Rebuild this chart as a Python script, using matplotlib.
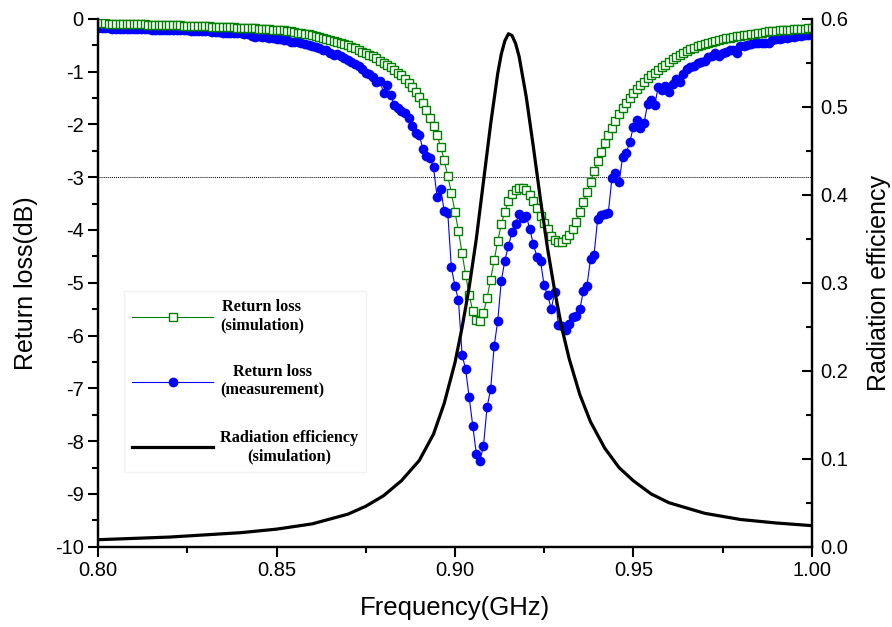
import numpy as np
import matplotlib
matplotlib.use("Agg")
import matplotlib.pyplot as plt
from matplotlib.ticker import MultipleLocator

plt.rcParams['font.family'] = ['Liberation Sans', 'DejaVu Sans']

# --- data: frequency sweep (GHz), 1 MHz step ---
freq = np.linspace(0.80, 1.00, 201)

# return loss, simulation (dB)
rl_sim = [
    -0.08, -0.08, -0.08, -0.09, -0.09, -0.09, -0.09, -0.09, -0.10, -0.10, -0.10,
    -0.10, -0.10, -0.10, -0.11, -0.11, -0.11, -0.11, -0.11, -0.12, -0.12,
    -0.12, -0.12, -0.12, -0.13, -0.13, -0.13, -0.13, -0.14, -0.14, -0.14,
    -0.14, -0.15, -0.15, -0.15, -0.15, -0.16, -0.16, -0.16, -0.17, -0.17,
    -0.17, -0.18, -0.18, -0.18, -0.19, -0.19, -0.20, -0.20, -0.21, -0.21,
    -0.22, -0.22, -0.23, -0.24, -0.25, -0.26, -0.27, -0.28, -0.29, -0.30,
    -0.32, -0.34, -0.36, -0.38, -0.40, -0.42, -0.44, -0.46, -0.48, -0.50,
    -0.53, -0.56, -0.59, -0.62, -0.65, -0.68, -0.71, -0.75, -0.79, -0.83,
    -0.87, -0.92, -0.97, -1.02, -1.07, -1.14, -1.21, -1.29, -1.38, -1.48,
    -1.59, -1.72, -1.87, -2.03, -2.21, -2.42, -2.68, -2.98, -3.29, -3.65,
    -4.02, -4.43, -4.85, -5.23, -5.54, -5.71, -5.72, -5.58, -5.29, -4.94,
    -4.57, -4.21, -3.89, -3.65, -3.46, -3.32, -3.24, -3.20, -3.20, -3.24,
    -3.33, -3.45, -3.58, -3.73, -3.87, -3.99, -4.11, -4.19, -4.23, -4.23,
    -4.18, -4.10, -3.99, -3.84, -3.66, -3.47, -3.28, -3.09, -2.89, -2.70,
    -2.53, -2.36, -2.21, -2.07, -1.94, -1.81, -1.69, -1.59, -1.50, -1.41,
    -1.33, -1.25, -1.19, -1.13, -1.07, -1.02, -0.97, -0.92, -0.87, -0.82,
    -0.77, -0.73, -0.69, -0.65, -0.61, -0.58, -0.55, -0.52, -0.49, -0.47,
    -0.45, -0.43, -0.42, -0.40, -0.39, -0.37, -0.36, -0.34, -0.33, -0.32,
    -0.31, -0.30, -0.29, -0.28, -0.27, -0.26, -0.25, -0.24, -0.24, -0.23,
    -0.22, -0.22, -0.21, -0.21, -0.20, -0.20, -0.19, -0.19, -0.18, -0.18,
]

# return loss, measurement (dB)
rl_meas = [
    -0.18, -0.18, -0.18, -0.18, -0.19, -0.19, -0.19, -0.19, -0.19, -0.20, -0.20,
    -0.20, -0.20, -0.20, -0.20, -0.21, -0.21, -0.21, -0.21, -0.21, -0.22,
    -0.22, -0.22, -0.22, -0.22, -0.22, -0.23, -0.23, -0.23, -0.24, -0.24,
    -0.24, -0.25, -0.25, -0.25, -0.26, -0.26, -0.26, -0.27, -0.27, -0.27,
    -0.28, -0.29, -0.32, -0.34, -0.33, -0.34, -0.35, -0.37, -0.37, -0.38,
    -0.39, -0.40, -0.41, -0.43, -0.43, -0.44, -0.46, -0.48, -0.49, -0.52,
    -0.54, -0.56, -0.59, -0.60, -0.64, -0.68, -0.66, -0.70, -0.74, -0.78,
    -0.82, -0.86, -0.90, -0.96, -1.03, -1.04, -1.10, -1.19, -1.17, -1.41,
    -1.25, -1.45, -1.63, -1.68, -1.74, -1.79, -1.88, -2.03, -2.17, -2.20,
    -2.46, -2.60, -2.64, -2.81, -3.38, -3.22, -3.64, -3.68, -4.71, -5.06,
    -5.33, -6.36, -6.64, -7.17, -7.71, -8.24, -8.37, -8.09, -7.36, -7.02,
    -6.20, -5.72, -4.96, -4.58, -4.30, -4.04, -3.88, -3.70, -3.78, -3.73,
    -3.99, -4.27, -4.51, -4.59, -5.05, -5.24, -5.49, -5.18, -5.80, -5.82,
    -5.90, -5.79, -5.65, -5.63, -5.50, -5.16, -5.06, -4.55, -4.47, -3.79,
    -3.71, -3.70, -3.67, -3.02, -2.92, -3.10, -2.62, -2.54, -2.34, -2.05,
    -1.91, -2.06, -1.98, -1.61, -1.53, -1.63, -1.29, -1.34, -1.27, -1.38,
    -1.23, -1.14, -1.19, -1.04, -0.95, -0.92, -0.89, -0.84, -0.82, -0.80,
    -0.73, -0.70, -0.65, -0.70, -0.64, -0.62, -0.59, -0.60, -0.65, -0.52,
    -0.51, -0.49, -0.48, -0.46, -0.45, -0.45, -0.46, -0.46, -0.40, -0.38,
    -0.38, -0.37, -0.37, -0.35, -0.34, -0.33, -0.32, -0.31, -0.30, -0.29,
]

# radiation efficiency, simulation
eff_freq = [0.800, 0.820, 0.840, 0.850, 0.860, 0.870, 0.875, 0.880, 0.885, 0.890,
            0.894, 0.897, 0.900, 0.902, 0.904, 0.906, 0.908, 0.910, 0.912, 0.913,
            0.914, 0.915, 0.916, 0.917, 0.918, 0.920, 0.922, 0.924, 0.926, 0.928,
            0.930, 0.932, 0.935, 0.938, 0.942, 0.946, 0.950, 0.955, 0.960, 0.970,
            0.980, 0.990, 1.000]
eff_val = [0.008, 0.011, 0.016, 0.020, 0.026, 0.037, 0.046, 0.058, 0.075, 0.098,
           0.128, 0.163, 0.209, 0.249, 0.295, 0.350, 0.415, 0.480, 0.538, 0.560,
           0.575, 0.583, 0.581, 0.572, 0.557, 0.511, 0.454, 0.394, 0.338, 0.290,
           0.248, 0.214, 0.173, 0.142, 0.112, 0.090, 0.075, 0.060, 0.050, 0.038,
           0.031, 0.027, 0.024]

# --- figure ---
fig = plt.figure(figsize=(8.92, 6.27), dpi=100)
ax = fig.add_axes([0.110, 0.128, 0.800, 0.842])
ax2 = ax.twinx()

l2, = ax.plot(freq, rl_meas, color='#0000ff', lw=0.8, marker='o', ms=7,
              mfc='#0000ff', mec='#0000ff', mew=0)
l1, = ax.plot(freq, rl_sim, color='#008000', lw=0.8, marker='s', ms=6,
              mfc='white', mec='#008000', mew=1.0)
ax.axhline(-3, color='black', lw=0.7, ls=(0, (1, 1)), zorder=1)
l3, = ax2.plot(eff_freq, eff_val, color='black', lw=2.3)

ax.set_xlim(0.80, 1.00)
ax.set_ylim(-10, 0)
ax2.set_ylim(0.0, 0.6)

ax.xaxis.set_major_locator(MultipleLocator(0.05))
ax.xaxis.set_minor_locator(MultipleLocator(0.025))
ax.yaxis.set_major_locator(MultipleLocator(1))
ax.yaxis.set_minor_locator(MultipleLocator(0.5))
ax2.yaxis.set_major_locator(MultipleLocator(0.1))
ax2.yaxis.set_minor_locator(MultipleLocator(0.05))
ax.xaxis.set_major_formatter(plt.FormatStrFormatter('%.2f'))
ax.yaxis.set_major_formatter(plt.FuncFormatter(lambda v, p: '%d' % v))
ax2.yaxis.set_major_formatter(plt.FormatStrFormatter('%.1f'))

for a in (ax, ax2):
    a.spines['top'].set_visible(False)
    for s in ('left', 'right', 'bottom'):
        a.spines[s].set_linewidth(1.6)

ax.tick_params(axis='both', which='major', direction='out', length=7, width=1.5,
               labelsize=14.5)
ax.tick_params(axis='both', which='minor', direction='out', length=4, width=1.5)
ax2.tick_params(axis='y', which='major', direction='in', length=7, width=1.5,
                labelsize=14.5, pad=6)
ax2.tick_params(axis='y', which='minor', direction='in', length=4, width=1.5)

ax.set_xlabel('Frequency(GHz)', fontsize=18.5, labelpad=11)
ax.set_ylabel('Return loss(dB)', fontsize=18, labelpad=12)
ax2.set_ylabel('Radiation efficiency', fontsize=18, labelpad=14)

leg = ax2.legend([l1, l2, l3],
                 ['Return loss\n(simulation)', 'Return loss\n(measurement)',
                  'Radiation efficiency\n(simulation)'],
                 loc='upper left', bbox_to_anchor=(0.025, 0.50),
                 prop={'family': 'Liberation Serif', 'weight': 'bold', 'size': 11.7},
                 handlelength=5.0, labelspacing=1.9, frameon=True, fancybox=False,
                 facecolor='white', edgecolor='#f2f2f2', framealpha=1,
                 borderpad=0.5, handletextpad=0.4)
for t in leg.get_texts():
    t.set_multialignment('center')

fig.savefig('out.png', dpi=100)
